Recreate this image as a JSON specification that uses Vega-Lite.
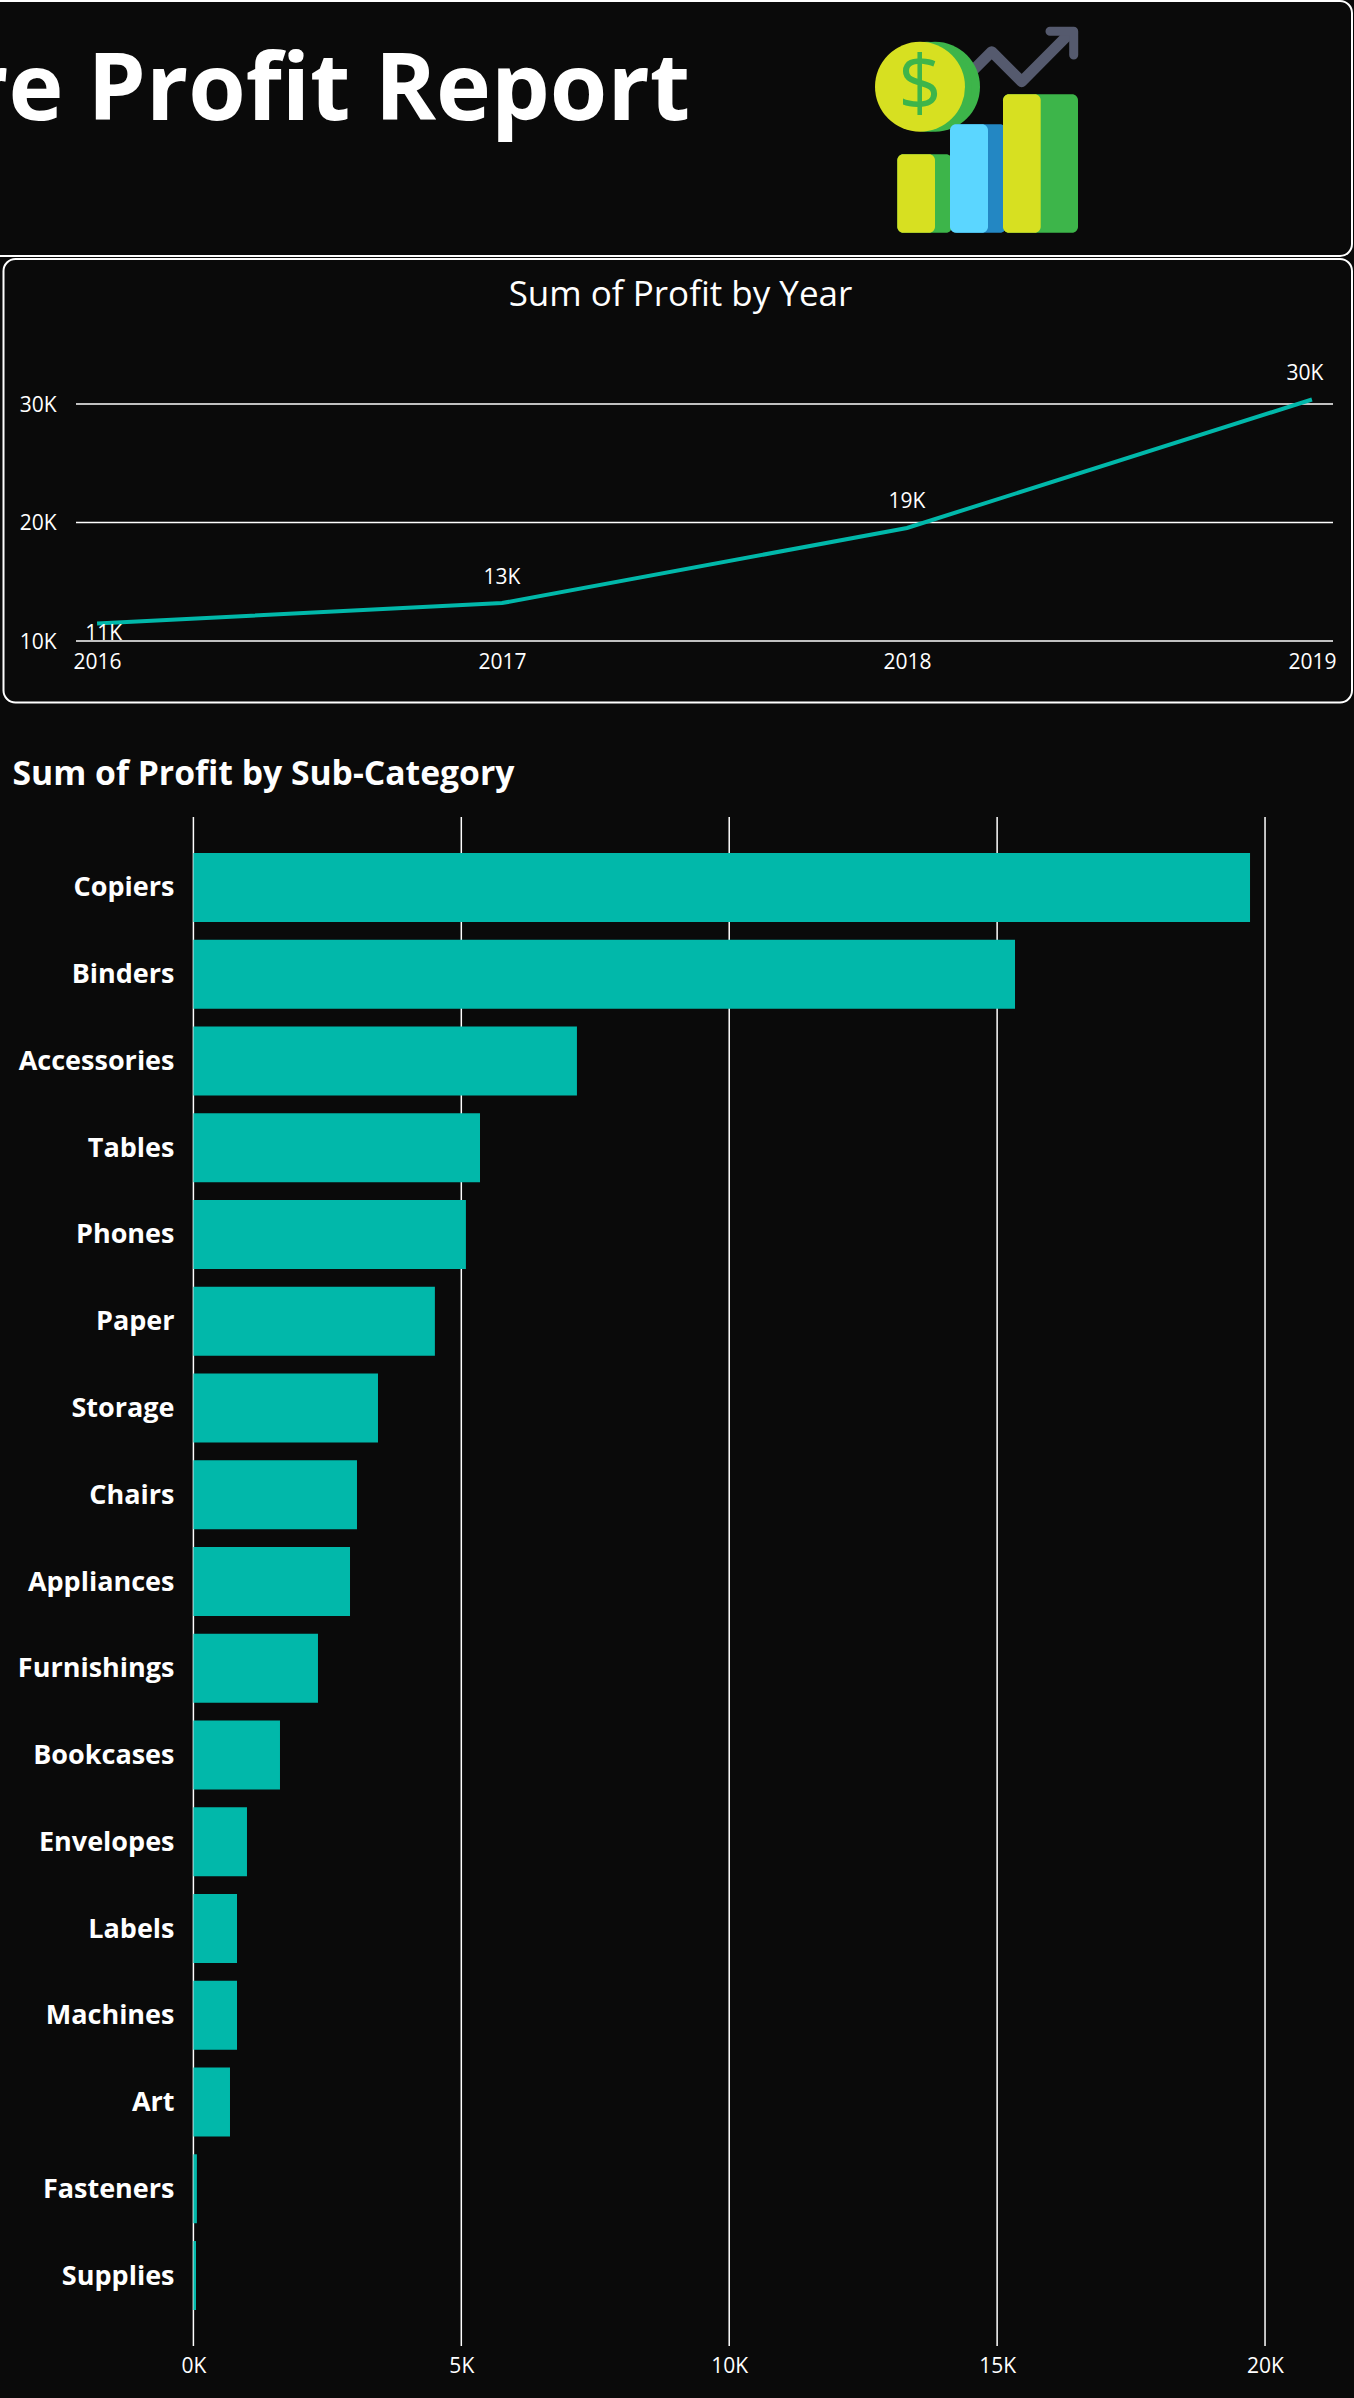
{
"$schema":"https://vega.github.io/schema/vega-lite/v6.json",
"background":"#0a0a0a",
"padding":0,
"autosize":{"type":"pad"},
"spacing":0,
"bounds":"flush",
"config":{"view":{"stroke":null},"font":"Open Sans","concat":{"spacing":0}},
"datasets":{
"frame1":[{"x0":-20,"x1":1352,"y0":1,"y1":256}],
"frame2":[{"x0":3.5,"x1":1352,"y0":2,"y1":445.5}],
"iconRects":[
{"part":"green","x0":897.3,"x1":952,"y0":154.3,"y1":232.7},
{"part":"blue","x0":952,"x1":1006,"y0":124.3,"y1":232.7},
{"part":"green","x0":1003,"x1":1078,"y0":94.3,"y1":232.7},
{"part":"yellow","x0":897.3,"x1":935,"y0":154.3,"y1":232.7},
{"part":"sky","x0":950,"x1":988,"y0":124.3,"y1":232.7},
{"part":"yellow","x0":1003,"x1":1040.7,"y0":94.3,"y1":232.7}],
"iconLines":[
{"stroke":"shaft","seq":1,"x":970,"y":73.3},
{"stroke":"shaft","seq":2,"x":991.7,"y":51.7},
{"stroke":"shaft","seq":3,"x":1021.7,"y":81.7},
{"stroke":"shaft","seq":4,"x":1070,"y":33},
{"stroke":"head","seq":1,"x":1050,"y":31.3},
{"stroke":"head","seq":2,"x":1073.7,"y":31.3},
{"stroke":"head","seq":3,"x":1073.7,"y":55}],
"coin":[{"part":"green","x":935,"y":86.7},{"part":"green","x":927,"y":86.7},{"part":"yellow","x":920,"y":86.7}],
"years":[{"year":2016,"profit":11477,"label":"11K"},{"year":2017,"profit":13200,"label":"13K"},{"year":2018,"profit":19540,"label":"19K"},{"year":2019,"profit":30380,"label":"30K"}],
"hgrid":[{"v":10000,"a":2015.948,"b":2019.052},{"v":20000,"a":2015.948,"b":2019.052},{"v":30000,"a":2015.948,"b":2019.052}],
"vgrid":[{"v":0,"a":0,"b":1},{"v":5000,"a":0,"b":1},{"v":10000,"a":0,"b":1},{"v":15000,"a":0,"b":1},{"v":20000,"a":0,"b":1}],
"subcats":[
{"sub":"Copiers","profit":19720},{"sub":"Binders","profit":15334},{"sub":"Accessories","profit":7158},{"sub":"Tables","profit":5349},{"sub":"Phones","profit":5086},{"sub":"Paper","profit":4507},{"sub":"Storage","profit":3445},{"sub":"Chairs","profit":3053},{"sub":"Appliances","profit":2923},{"sub":"Furnishings","profit":2325},{"sub":"Bookcases","profit":1616},{"sub":"Envelopes","profit":1000},{"sub":"Labels","profit":814},{"sub":"Machines","profit":814},{"sub":"Art","profit":683},{"sub":"Fasteners","profit":65},{"sub":"Supplies","profit":49}]
},
"vconcat":[
{"width":1354,"height":257,
"resolve":{"scale":{"color":"shared"}},
"layer":[
{"data":{"name":"frame1"},"mark":{"type":"rect","cornerRadius":12,"fill":"#0a0a0a","stroke":"#ffffff","strokeWidth":2,"clip":true},
"encoding":{"x":{"field":"x0","type":"quantitative","scale":{"domain":[0,1354],"range":[0,1354]},"axis":null},"x2":{"field":"x1"},"y":{"field":"y0","type":"quantitative","scale":{"domain":[0,257],"range":[0,257]},"axis":null},"y2":{"field":"y1"}}},
{"data":{"values":[{"x":690,"y":120,"t":"Superstore Profit Report"}]},"mark":{"type":"text","align":"right","baseline":"alphabetic","fontSize":93,"fontWeight":700,"fill":"#ffffff","clip":true},
"encoding":{"x":{"field":"x","type":"quantitative","scale":{"domain":[0,1354],"range":[0,1354]},"axis":null},"y":{"field":"y","type":"quantitative","scale":{"domain":[0,257],"range":[0,257]},"axis":null},"text":{"field":"t"}}},
{"data":{"name":"iconLines"},"mark":{"type":"line","strokeCap":"round","strokeJoin":"round","strokeWidth":11,"color":"#555a6e"},
"transform":[{"filter":"datum.stroke=='shaft'"}],
"encoding":{"x":{"field":"x","type":"quantitative","scale":{"domain":[0,1354],"range":[0,1354]},"axis":null},"y":{"field":"y","type":"quantitative","scale":{"domain":[0,257],"range":[0,257]},"axis":null},"order":{"field":"seq"}}},
{"data":{"name":"iconLines"},"mark":{"type":"line","strokeCap":"round","strokeJoin":"round","strokeWidth":9,"color":"#555a6e"},
"transform":[{"filter":"datum.stroke=='head'"}],
"encoding":{"x":{"field":"x","type":"quantitative","scale":{"domain":[0,1354],"range":[0,1354]},"axis":null},"y":{"field":"y","type":"quantitative","scale":{"domain":[0,257],"range":[0,257]},"axis":null},"order":{"field":"seq"}}},
{"data":{"name":"coin"},"mark":{"type":"point","filled":true,"opacity":1,"size":8100,"shape":"circle"},
"encoding":{"x":{"field":"x","type":"quantitative","scale":{"domain":[0,1354],"range":[0,1354]},"axis":null},"y":{"field":"y","type":"quantitative","scale":{"domain":[0,257],"range":[0,257]},"axis":null},"color":{"field":"part","type":"nominal","legend":null,"scale":{"domain":["green","blue","yellow","sky"],"range":["#3db54a","#2387c3","#d7e021","#5bd6ff"]}},"order":{"field":"x","sort":"descending"}}},
{"data":{"values":[{"x":920,"y":87,"t":"$"}]},"mark":{"type":"text","align":"center","baseline":"middle","fontSize":76,"fontWeight":400,"fill":"#3db54a"},
"encoding":{"x":{"field":"x","type":"quantitative","scale":{"domain":[0,1354],"range":[0,1354]},"axis":null},"y":{"field":"y","type":"quantitative","scale":{"domain":[0,257],"range":[0,257]},"axis":null},"text":{"field":"t"}}},
{"data":{"name":"iconRects"},"mark":{"type":"rect","cornerRadius":6},
"encoding":{"x":{"field":"x0","type":"quantitative","scale":{"domain":[0,1354],"range":[0,1354]},"axis":null},"x2":{"field":"x1"},"y":{"field":"y0","type":"quantitative","scale":{"domain":[0,257],"range":[0,257]},"axis":null},"y2":{"field":"y1"},"color":{"field":"part","type":"nominal","legend":null}}}
]},
{"width":1354,"height":560,
"title":{"text":"Sum of Profit by Year","anchor":"middle","fontSize":35,"fontWeight":400,"color":"#ffffff","font":"Open Sans","dx":3.5,"dy":60},
"resolve":{"scale":{"x":"independent","y":"independent"}},
"layer":[
{"data":{"name":"frame2"},"mark":{"type":"rect","cornerRadius":12,"fill":"#0a0a0a","stroke":"#ffffff","strokeWidth":2},
"encoding":{"x":{"field":"x0","type":"quantitative","scale":{"domain":[0,1354],"range":[0,1354]},"axis":null},"x2":{"field":"x1"},"y":{"field":"y0","type":"quantitative","scale":{"domain":[0,560],"range":[0,560]},"axis":null},"y2":{"field":"y1"}}},
{"data":{"name":"hgrid"},"mark":{"type":"rule","color":"#ffffff","strokeWidth":1.5},
"encoding":{"x":{"field":"a","type":"quantitative","scale":{"domain":[2015.948,2019.052],"range":[76,1333]},
"axis":{"zindex":1,"values":[2016,2017,2018,2019],"format":"d","orient":"bottom","offset":-176,"title":null,"grid":false,"domain":false,"ticks":false,"labelColor":"#ffffff","labelFontSize":21,"labelPadding":21,"labelBaseline":"middle","labelFont":"Open Sans","labelOverlap":false,"labelFlush":false,"labelBound":false}},
"x2":{"field":"b"},
"y":{"field":"v","type":"quantitative","scale":{"domain":[10000,30000],"range":[384,147]},
"axis":{"zindex":1,"values":[10000,20000,30000],"labelExpr":"datum.value/1000+'K'","offset":-58,"title":null,"grid":false,"domain":false,"ticks":false,"labelColor":"#ffffff","labelFontSize":21,"labelPadding":2,"labelFont":"Open Sans","labelOverlap":false,"labelBound":false,"labelOffset":1}}}},
{"data":{"name":"years"},"mark":{"type":"line","color":"#01b8aa","strokeWidth":4},
"encoding":{"x":{"field":"year","type":"quantitative","scale":{"domain":[2015.948,2019.052],"range":[76,1333]},"axis":null},"y":{"field":"profit","type":"quantitative","scale":{"domain":[10000,30000],"range":[384,147]},"axis":null}}},
{"data":{"name":"years"},"transform":[{"filter":"datum.year==2017||datum.year==2018"}],"mark":{"type":"text","fontSize":21,"fill":"#ffffff","yOffset":-25.5,"baseline":"middle"},
"encoding":{"x":{"field":"year","type":"quantitative","scale":{"domain":[2015.948,2019.052],"range":[76,1333]},"axis":null},"y":{"field":"profit","type":"quantitative","scale":{"domain":[10000,30000],"range":[384,147]},"axis":null},"text":{"field":"label"}}},
{"data":{"name":"years"},"transform":[{"filter":"datum.year==2019"}],"mark":{"type":"text","fontSize":21,"fill":"#ffffff","yOffset":-25.5,"xOffset":-7,"baseline":"middle"},
"encoding":{"x":{"field":"year","type":"quantitative","scale":{"domain":[2015.948,2019.052],"range":[76,1333]},"axis":null},"y":{"field":"profit","type":"quantitative","scale":{"domain":[10000,30000],"range":[384,147]},"axis":null},"text":{"field":"label"}}},
{"data":{"name":"years"},"transform":[{"filter":"datum.year==2016"}],"mark":{"type":"text","fontSize":21,"fill":"#ffffff","yOffset":10.5,"xOffset":6.6,"baseline":"middle"},
"encoding":{"x":{"field":"year","type":"quantitative","scale":{"domain":[2015.948,2019.052],"range":[76,1333]},"axis":null},"y":{"field":"profit","type":"quantitative","scale":{"domain":[10000,30000],"range":[384,147]},"axis":null},"text":{"field":"label"}}}
]},
{"width":1354,"height":1581,
"title":{"text":"Sum of Profit by Sub-Category","anchor":"start","frame":"group","fontSize":33.7,"fontWeight":700,"color":"#ffffff","font":"Open Sans","dx":12.5,"dy":-21},
"resolve":{"scale":{"x":"independent","y":"independent"}},
"layer":[
{"data":{"name":"vgrid"},"mark":{"type":"rule","color":"#ffffff","strokeWidth":1.5},
"encoding":{"x":{"field":"v","type":"quantitative","scale":{"domain":[0,20800],"range":[193.4,1307.9]},"axis":null},
"y":{"field":"a","type":"quantitative","scale":{"domain":[0,1],"range":[0,1529]},"axis":null},"y2":{"field":"b"}}},
{"data":{"name":"subcats"},"mark":{"type":"bar","color":"#01b8aa","x2Offset":-1.4},
"encoding":{
"y":{"field":"sub","type":"nominal","sort":null,"scale":{"range":[0,1529],"paddingInner":0.205,"paddingOuter":0.415},
"axis":{"offset":-176,"title":null,"domain":false,"ticks":false,"grid":false,"labelColor":"#ffffff","labelFontSize":27,"labelFontWeight":700,"labelFont":"Open Sans","labelPadding":2,"labelLimit":300,"labelOverlap":false,"labelOffset":1}},
"x":{"field":"profit","type":"quantitative","stack":null,"scale":{"domain":[0,20800],"range":[193.4,1307.9]},
"axis":{"values":[0,5000,10000,15000,20000],"labelExpr":"datum.value/1000+'K'","orient":"bottom","offset":-52,"title":null,"grid":false,"domain":false,"ticks":false,"labelColor":"#ffffff","labelFontSize":21,"labelPadding":20,"labelBaseline":"middle","labelFont":"Open Sans","labelOverlap":false,"labelFlush":false,"labelBound":false}}}}
]}
]
}
